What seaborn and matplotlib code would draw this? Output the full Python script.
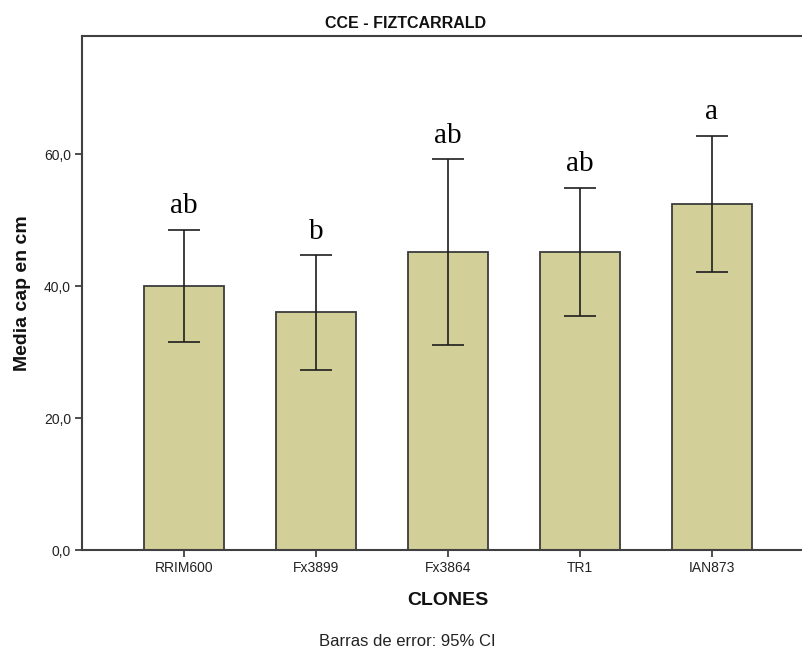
import matplotlib
matplotlib.use("Agg")
import matplotlib.pyplot as plt
import seaborn as sns
import pandas as pd
import numpy as np

# Clones and mean values (cm) with 95% CI limits
clones = ["RRIM600", "Fx3899", "Fx3864", "TR1", "IAN873"]
means = [40.0, 36.0, 45.1, 45.15, 52.45]
ci_low = [31.5, 27.3, 31.0, 35.4, 42.1]
ci_high = [48.5, 44.7, 59.2, 54.9, 62.8]
groups = ["ab", "b", "ab", "ab", "a"]
yticks = [0, 20, 40, 60]
ytick_labels = ["0,0", "20,0", "40,0", "60,0"]

sns.set_style("white")
plt.rcParams["font.family"] = ["Liberation Sans", "DejaVu Sans"]

df = pd.DataFrame({"CLONES": clones, "media": means})

fig = plt.figure(figsize=(8.03, 6.49), dpi=100)
ax = fig.add_axes([82 / 803, 99 / 649, 732 / 803, 514 / 649])

sns.barplot(data=df, x="CLONES", y="media", order=clones, color="#d3cf98",
            saturation=1, width=0.6, errorbar=None, edgecolor="#3c3c3c",
            linewidth=1.3, ax=ax)

x = np.arange(len(clones))
m = np.array(means)
yerr = np.vstack([m - np.array(ci_low), np.array(ci_high) - m])
ax.errorbar(x, m, yerr=yerr, fmt="none", ecolor="#1e1e1e", elinewidth=1.2,
            capsize=11.5, capthick=1.2, zorder=5)

for xi, top, g in zip(x, ci_high, groups):
    ax.text(xi, top + 2.5, g, ha="center", va="baseline",
            family=["Liberation Serif", "DejaVu Serif"], fontsize=21,
            color="black")

ax.set_xlim(-0.773, 4.773)
ax.set_ylim(0, 77.9)
ax.set_yticks(yticks)
ax.set_yticklabels(ytick_labels)

for side in ["left", "top", "bottom"]:
    ax.spines[side].set_visible(True)
    ax.spines[side].set_color("#404040")
    ax.spines[side].set_linewidth(1.5)
ax.spines["right"].set_visible(False)

ax.tick_params(axis="both", which="major", direction="out", length=5,
               width=1.3, color="#404040", labelsize=10, labelcolor="#222222",
               left=True, bottom=True, pad=3)

ax.set_xlabel("CLONES", fontsize=14, fontweight="bold", labelpad=12,
              color="#111111")
ax.set_ylabel("Media cap en cm", fontsize=14, fontweight="bold", labelpad=9,
              color="#111111")

fig.text(406 / 803, 1 - 23 / 649, "CCE - FIZTCARRALD", ha="center",
         va="center", fontsize=11.5, fontweight="bold", color="#111111")
fig.text(407 / 803, 1 - 641 / 649, "Barras de error: 95% CI", ha="center",
         va="center", fontsize=12, color="#222222")

fig.savefig("out.png", dpi=100)
